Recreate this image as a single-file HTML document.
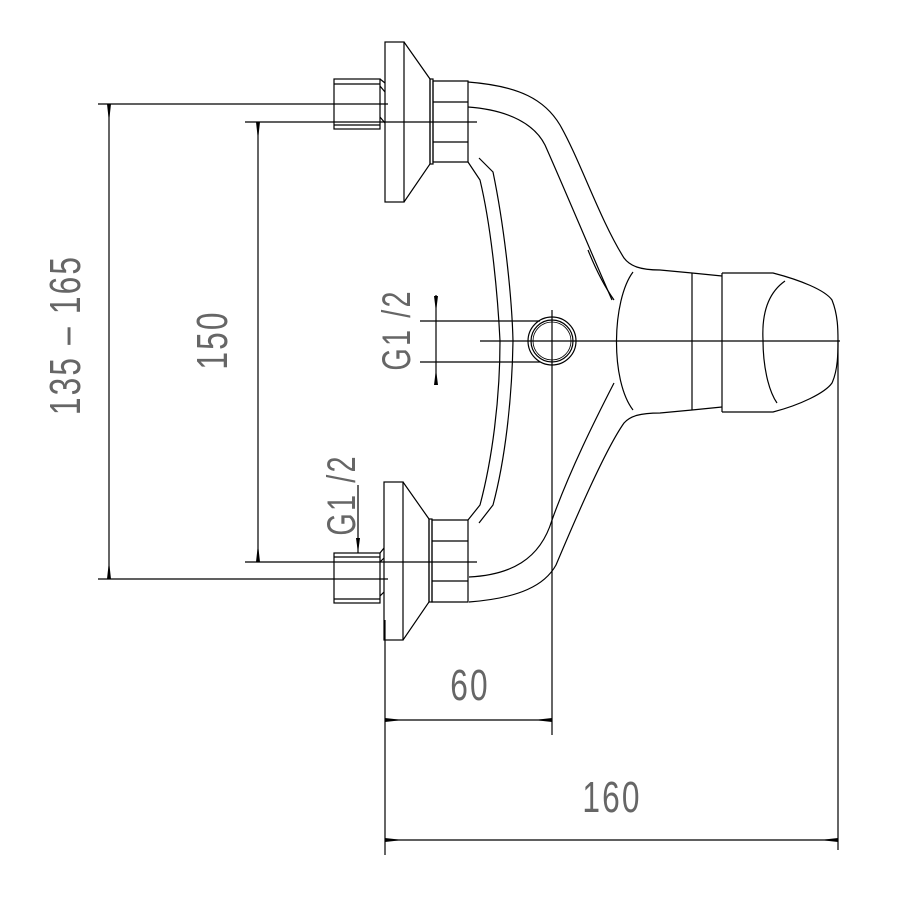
<!DOCTYPE html>
<html><head><meta charset="utf-8"><style>
html,body{margin:0;padding:0;background:#fff;}
svg{display:block;}
text{font-family:"Liberation Sans Narrow","Liberation Sans",sans-serif;fill:#666;font-weight:normal;}
</style></head><body>
<svg width="900" height="900" viewBox="0 0 900 900" xmlns="http://www.w3.org/2000/svg">
<g fill="none" stroke="#000" stroke-width="1.2">
<line x1="98" y1="104" x2="388" y2="104"/>
<line x1="98" y1="579" x2="388" y2="579"/>
<line x1="245" y1="122" x2="477" y2="122"/>
<line x1="245" y1="562" x2="477" y2="562"/>
<line x1="109" y1="104" x2="109" y2="579"/>
<line x1="258" y1="122" x2="258" y2="562"/>
<path d="M107,104 L111,104 L109,122z M107,579 L111,579 L109,561z M256,122 L260,122 L258,140z M256,562 L260,562 L258,544z" fill="#000" stroke="none"/>

<rect x="385" y="42" width="19" height="160"/>
<path d="M404,42 L430,79 L430,164 L404,202"/>
<rect x="430" y="79" width="3" height="85"/>
<rect x="334" y="79" width="46" height="50"/>
<line x1="334" y1="84" x2="380" y2="84"/>
<line x1="334" y1="125" x2="380" y2="125"/>
<path d="M380,79 L385,83 M380,86 L385,92 M380,117 L385,123"/>
<path d="M433,81 L468,81 L468,162 L433,162z"/>
<line x1="433" y1="102" x2="468" y2="102"/>
<line x1="433" y1="142" x2="468" y2="142"/>

<rect x="384" y="482" width="19" height="158"/>
<path d="M403,482 L429,519 L429,602 L403,640"/>
<rect x="429" y="519" width="3" height="83"/>
<rect x="334" y="553" width="46" height="50"/>
<line x1="334" y1="557" x2="380" y2="557"/>
<line x1="334" y1="599" x2="380" y2="599"/>
<path d="M380,553 L384,548 M380,562 L384,558 M380,596 L384,592"/>
<path d="M432,520 L468,520 L468,602 L432,602z"/>
<line x1="432" y1="541" x2="468" y2="541"/>
<line x1="432" y1="581" x2="468" y2="581"/>

<path d="M468,82 C520,86 545,100 560,125 C580,160 600,220 624,258 C630,266 640,270 660,270 L692,273"/>
<path d="M468,107 C510,110 535,125 545,145 C565,190 590,250 612,300"/>
<path d="M588,250 Q600,280 614,300"/>
<path d="M469,602 C520,598 545,585 556,565 C575,520 605,450 624,423 C630,416 640,413 660,413 L692,410"/>
<path d="M469,577 C510,575 540,560 552,520 C570,470 595,420 614,383"/>

<path d="M468,162 L480,180 C492,230 498,300 500,341 C500,400 492,460 480,505 L468,520"/>
<path d="M479,158 L493,172 C505,230 512,300 513,341 C512,400 505,460 493,505 L479,523"/>

<path d="M633,272 C612,300 610,380 633,410"/>
<line x1="692" y1="273" x2="692" y2="410"/>
<path d="M692,273 L722,276 M692,410 L722,407"/>
<line x1="722" y1="273" x2="722" y2="412"/>
<path d="M722,273 L773,273 C800,280 825,290 832,300 C838,315 838,330 838,341 C838,352 838,370 832,383 C825,393 800,405 773,412 L722,412"/>
<path d="M785,281 C765,295 762,320 763,340 C763,365 768,390 777,403"/>

<circle cx="552" cy="341" r="24"/>
<circle cx="552" cy="341" r="21"/>
<circle cx="552" cy="341" r="19" stroke-width="0.8"/>
<line x1="480" y1="341" x2="840" y2="341"/>
<line x1="552" y1="310" x2="552" y2="735"/>

<line x1="420" y1="321" x2="540" y2="321"/>
<line x1="420" y1="362" x2="540" y2="362"/>
<line x1="436" y1="295" x2="436" y2="385"/>
<path d="M434,296 L438,296 L436,312z M434,385 L438,385 L436,369z" fill="#000" stroke="none"/>
<line x1="358" y1="485" x2="358" y2="553"/>
<path d="M356,538 L360,538 L358,553z" fill="#000" stroke="none"/>

<line x1="385" y1="620" x2="385" y2="855"/>
<line x1="838" y1="340" x2="838" y2="850"/>
<line x1="385" y1="720" x2="552" y2="720"/>
<line x1="385" y1="840" x2="838" y2="840"/>
<path d="M385,718 L385,722 L403,720z M552,718 L552,722 L534,720z M385,838 L385,842 L403,840z M838,838 L838,842 L820,840z" fill="#000" stroke="none"/>
</g>
<g>
<text transform="translate(80,335) rotate(-90) scale(0.72,1)" font-size="44" text-anchor="middle" letter-spacing="3">135 – 165</text>
<text transform="translate(227,340) rotate(-90) scale(0.72,1)" font-size="44" text-anchor="middle" letter-spacing="3">150</text>
<text transform="translate(410,330) rotate(-90) scale(0.72,1)" font-size="40" text-anchor="middle" letter-spacing="3">G1 /2</text>
<text transform="translate(355,495) rotate(-90) scale(0.72,1)" font-size="40" text-anchor="middle" letter-spacing="3">G1 /2</text>
<text transform="translate(470,700) scale(0.72,1)" font-size="44" text-anchor="middle" letter-spacing="3">60</text>
<text transform="translate(612,812) scale(0.72,1)" font-size="44" text-anchor="middle" letter-spacing="3">160</text>
</g>
</svg>
</body></html>
